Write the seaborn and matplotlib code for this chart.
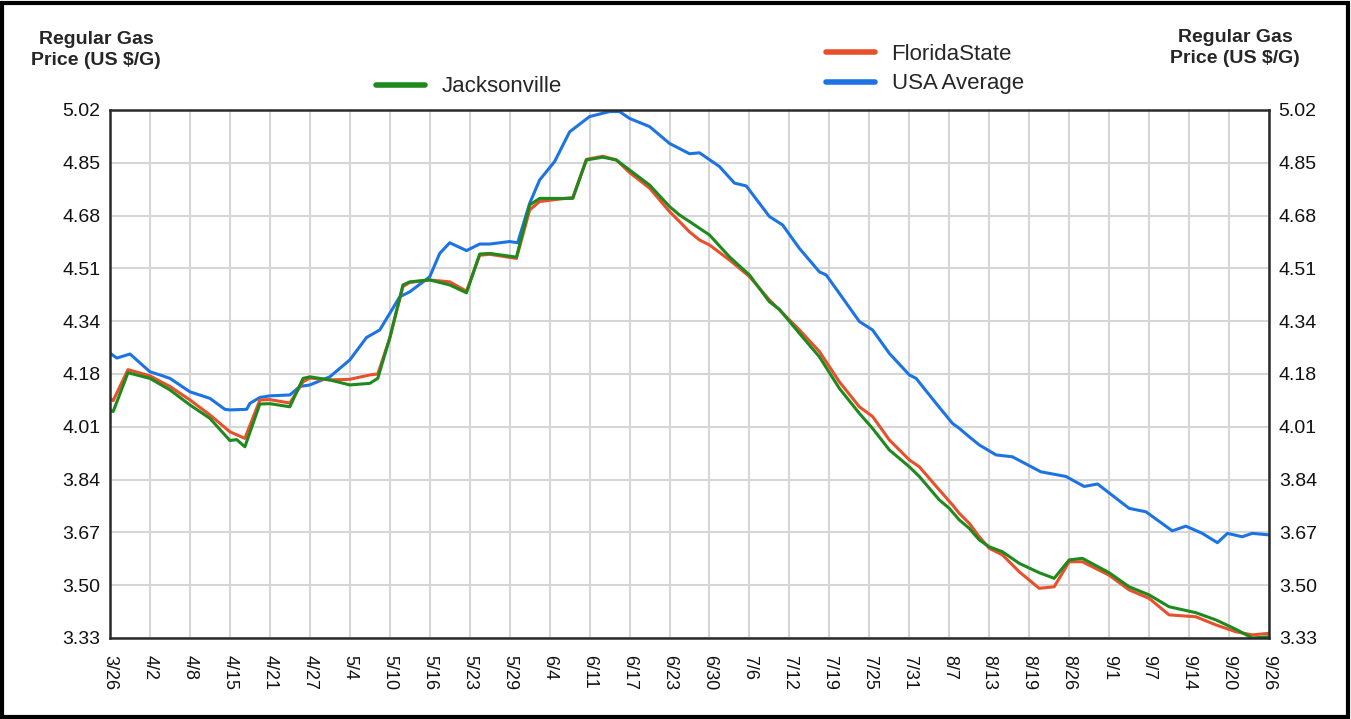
import matplotlib
matplotlib.use('Agg')
import matplotlib.pyplot as plt
import seaborn as sns
import pandas as pd
import numpy as np
from matplotlib import font_manager
from matplotlib.patches import Rectangle

# tick labels (evenly spaced on the chart)
date_labels = ['3/26', '4/2', '4/8', '4/15', '4/21', '4/27', '5/4', '5/10', '5/16', '5/23',
               '5/29', '6/4', '6/11', '6/17', '6/23', '6/30', '7/6', '7/12', '7/19', '7/25',
               '7/31', '8/7', '8/13', '8/19', '8/26', '9/1', '9/7', '9/14', '9/20', '9/26']
price_labels = ['3.33', '3.50', '3.67', '3.84', '4.01', '4.18', '4.34', '4.51', '4.68', '4.85', '5.02']

# USA average (x in tick steps)
usa_x = [0, 0.17, 0.5, 1, 1.25, 1.5, 2, 2.5, 2.875, 3, 3.42, 3.5, 3.75, 4, 4.5, 4.75, 5, 5.5, 6,
         6.42, 6.75, 7, 7.25, 7.5, 8, 8.25, 8.5, 8.92, 9.25, 9.5, 10, 10.2, 10.5, 10.75, 11.125,
         11.5, 12, 12.5, 12.75, 13, 13.5, 14, 14.5, 14.75, 15.25, 15.625, 15.92, 16.5, 16.83,
         17.25, 17.75, 17.92, 18.25, 18.75, 19.08, 19.5, 20, 20.17, 20.67, 21.08, 21.25, 21.5,
         21.75, 22.17, 22.58, 23.29, 23.92, 24.375, 24.71, 25.5, 25.92, 26.58, 26.92, 27.33,
         27.71, 27.96, 28.33, 28.58, 29]
usa_y = [4.242, 4.226, 4.239, 4.182, 4.172, 4.161, 4.118, 4.097, 4.062, 4.060, 4.062, 4.081,
         4.100, 4.105, 4.108, 4.135, 4.140, 4.166, 4.220, 4.292, 4.316, 4.369, 4.422, 4.438,
         4.486, 4.561, 4.595, 4.570, 4.591, 4.591, 4.599, 4.595, 4.721, 4.796, 4.855, 4.950,
         4.999, 5.015, 5.015, 4.993, 4.967, 4.913, 4.880, 4.883, 4.839, 4.786, 4.777, 4.679,
         4.652, 4.577, 4.502, 4.492, 4.433, 4.343, 4.316, 4.241, 4.172, 4.161, 4.081, 4.017,
         4.001, 3.974, 3.948, 3.916, 3.910, 3.862, 3.847, 3.815, 3.823, 3.745, 3.734, 3.673,
         3.688, 3.665, 3.635, 3.665, 3.654, 3.665, 3.660]

# Florida state
fl_x = [0, 0.08, 0.45, 1, 1.5, 2, 2.5, 3, 3.375, 3.75, 4, 4.5, 4.83, 5, 5.5, 6, 6.5, 6.7, 7,
        7.33, 7.5, 8, 8.5, 8.92, 9.25, 9.5, 10.17, 10.5, 10.75, 11.58, 11.92, 12.33, 12.67, 13,
        13.5, 14, 14.25, 14.5, 14.75, 15, 15.5, 16, 16.5, 17.25, 17.75, 18.25, 18.75, 19.08,
        19.5, 20, 20.25, 20.75, 21.08, 21.25, 21.5, 21.75, 22, 22.33, 22.75, 23.25, 23.625, 24,
        24.33, 25, 25.5, 26, 26.5, 27.17, 27.67, 28.17, 28.58, 29]
fl_y = [4.097, 4.090, 4.189, 4.169, 4.135, 4.092, 4.044, 3.990, 3.969, 4.092, 4.093, 4.082,
        4.150, 4.162, 4.156, 4.158, 4.172, 4.175, 4.290, 4.455, 4.468, 4.476, 4.470, 4.440,
        4.555, 4.558, 4.545, 4.700, 4.727, 4.740, 4.862, 4.872, 4.860, 4.820, 4.770, 4.695,
        4.663, 4.630, 4.604, 4.588, 4.540, 4.487, 4.412, 4.316, 4.247, 4.150, 4.070, 4.039,
        3.964, 3.900, 3.878, 3.804, 3.756, 3.729, 3.697, 3.654, 3.617, 3.596, 3.542, 3.489,
        3.494, 3.574, 3.574, 3.531, 3.484, 3.457, 3.404, 3.398, 3.372, 3.350, 3.340, 3.345]

# Jacksonville
jax_x = [0, 0.08, 0.45, 1, 1.5, 2, 2.5, 3, 3.17, 3.375, 3.75, 4, 4.5, 4.83, 5, 5.5, 6, 6.5, 6.7,
         7, 7.33, 7.5, 8, 8.5, 8.92, 9.25, 9.5, 10.17, 10.5, 10.75, 11.58, 11.92, 12.33, 12.67,
         13, 13.5, 14, 14.25, 14.5, 15, 15.5, 16, 16.5, 16.75, 17.25, 17.75, 18.25, 18.75,
         19.08, 19.5, 20, 20.25, 20.75, 21, 21.25, 21.5, 21.75, 22, 22.33, 22.75, 23.25, 23.625,
         24, 24.33, 25, 25.5, 26, 26.5, 27.17, 27.67, 28.17, 28.58, 29]
jax_y = [4.060, 4.055, 4.179, 4.161, 4.124, 4.076, 4.033, 3.962, 3.965, 3.942, 4.079, 4.080,
         4.070, 4.161, 4.166, 4.156, 4.140, 4.145, 4.161, 4.290, 4.460, 4.470, 4.476, 4.460,
         4.435, 4.559, 4.561, 4.549, 4.716, 4.737, 4.737, 4.860, 4.869, 4.860, 4.828, 4.780,
         4.711, 4.684, 4.663, 4.620, 4.550, 4.492, 4.406, 4.382, 4.305, 4.230, 4.129, 4.049,
         4.001, 3.932, 3.878, 3.847, 3.772, 3.745, 3.708, 3.681, 3.644, 3.622, 3.606, 3.569,
         3.539, 3.521, 3.580, 3.585, 3.539, 3.494, 3.468, 3.430, 3.411, 3.388, 3.358, 3.330,
         3.334]

usa_color = '#1c74e4'
fl_color = '#e8502c'
jax_color = '#1e8a1e'

sns.set_theme(style='whitegrid')


def pick_font(names):
    for n in names:
        try:
            font_manager.findfont(n, fallback_to_default=False)
            return n
        except Exception:
            continue
    return 'DejaVu Sans'


narrow = pick_font(['Liberation Sans Narrow', 'Liberation Sans', 'DejaVu Sans'])
regular = pick_font(['Liberation Sans', 'DejaVu Sans'])
plt.rcParams['font.family'] = [narrow, 'DejaVu Sans']

W, H = 1351, 719
fig = plt.figure(figsize=(W / 100, H / 100), dpi=100)
ax = fig.add_axes([110 / W, 1 - 638 / H, (1269 - 110) / W, (638 - 110) / H])

usa = pd.DataFrame({'x': usa_x, 'y': usa_y})
fl = pd.DataFrame({'x': fl_x, 'y': fl_y})
jax = pd.DataFrame({'x': jax_x, 'y': jax_y})

sns.lineplot(data=usa, x='x', y='y', ax=ax, color=usa_color, lw=2.2, label='USA Average', legend=False)
sns.lineplot(data=fl, x='x', y='y', ax=ax, color=fl_color, lw=2.2, label='FloridaState', legend=False)
sns.lineplot(data=jax, x='x', y='y', ax=ax, color=jax_color, lw=2.2, label='Jacksonville', legend=False)

ax.set_xlim(0, 29)
ax.set_ylim(3.33, 5.02)
ax.set_xticks(range(len(date_labels)))
ax.set_xticklabels(date_labels, rotation=270, fontsize=13, family=[narrow, 'DejaVu Sans'])
ax.set_yticks(np.linspace(3.33, 5.02, len(price_labels)))
ax.set_yticklabels(price_labels, fontsize=14, family=[narrow, 'DejaVu Sans'])
ax.tick_params(axis='y', length=0, pad=7, labelleft=True, labelright=True, colors='#111111')
ax.tick_params(axis='x', length=0, pad=12, colors='#111111')
ax.set_xlabel('')
ax.set_ylabel('')
ax.grid(True, color='#d6d6d6', lw=1.5)
for s in ax.spines.values():
    s.set_color('#2a2a2a')
    s.set_linewidth(1.8)

# axis titles on both sides
fig.text(96 / W, 1 - 50 / H, 'Regular Gas\nPrice (US $/G)', ha='center', va='center',
         fontsize=14, fontweight='bold', linespacing=1.35, family=[narrow, 'DejaVu Sans'])
fig.text(1235 / W, 1 - 48 / H, 'Regular Gas\nPrice (US $/G)', ha='center', va='center',
         fontsize=14, fontweight='bold', linespacing=1.35, family=[narrow, 'DejaVu Sans'])

# legends
lines = {l.get_label(): l for l in ax.get_lines()}
leg1 = fig.legend([lines['Jacksonville']], ['Jacksonville'], loc='center left',
                  bbox_to_anchor=(376 / W, 1 - 87 / H), frameon=False, borderpad=0,
                  borderaxespad=0, handlelength=2.2, handletextpad=0.75,
                  prop={'family': regular, 'size': 16})
leg2 = fig.legend([lines['FloridaState'], lines['USA Average']], ['FloridaState', 'USA Average'],
                  loc='center left', bbox_to_anchor=(826 / W, 1 - 69 / H), frameon=False,
                  borderpad=0, borderaxespad=0, handlelength=2.2, handletextpad=0.75,
                  labelspacing=0.4, prop={'family': regular, 'size': 16})
for lg in (leg1, leg2):
    for h in lg.legend_handles:
        h.set_linewidth(4)

# outer frame
fig.patches.append(Rectangle((2 / W, 2 / H), (W - 5) / W, (H - 5) / H, transform=fig.transFigure,
                             fill=False, lw=3, ec='black'))

plt.savefig('out.png', dpi=100)
